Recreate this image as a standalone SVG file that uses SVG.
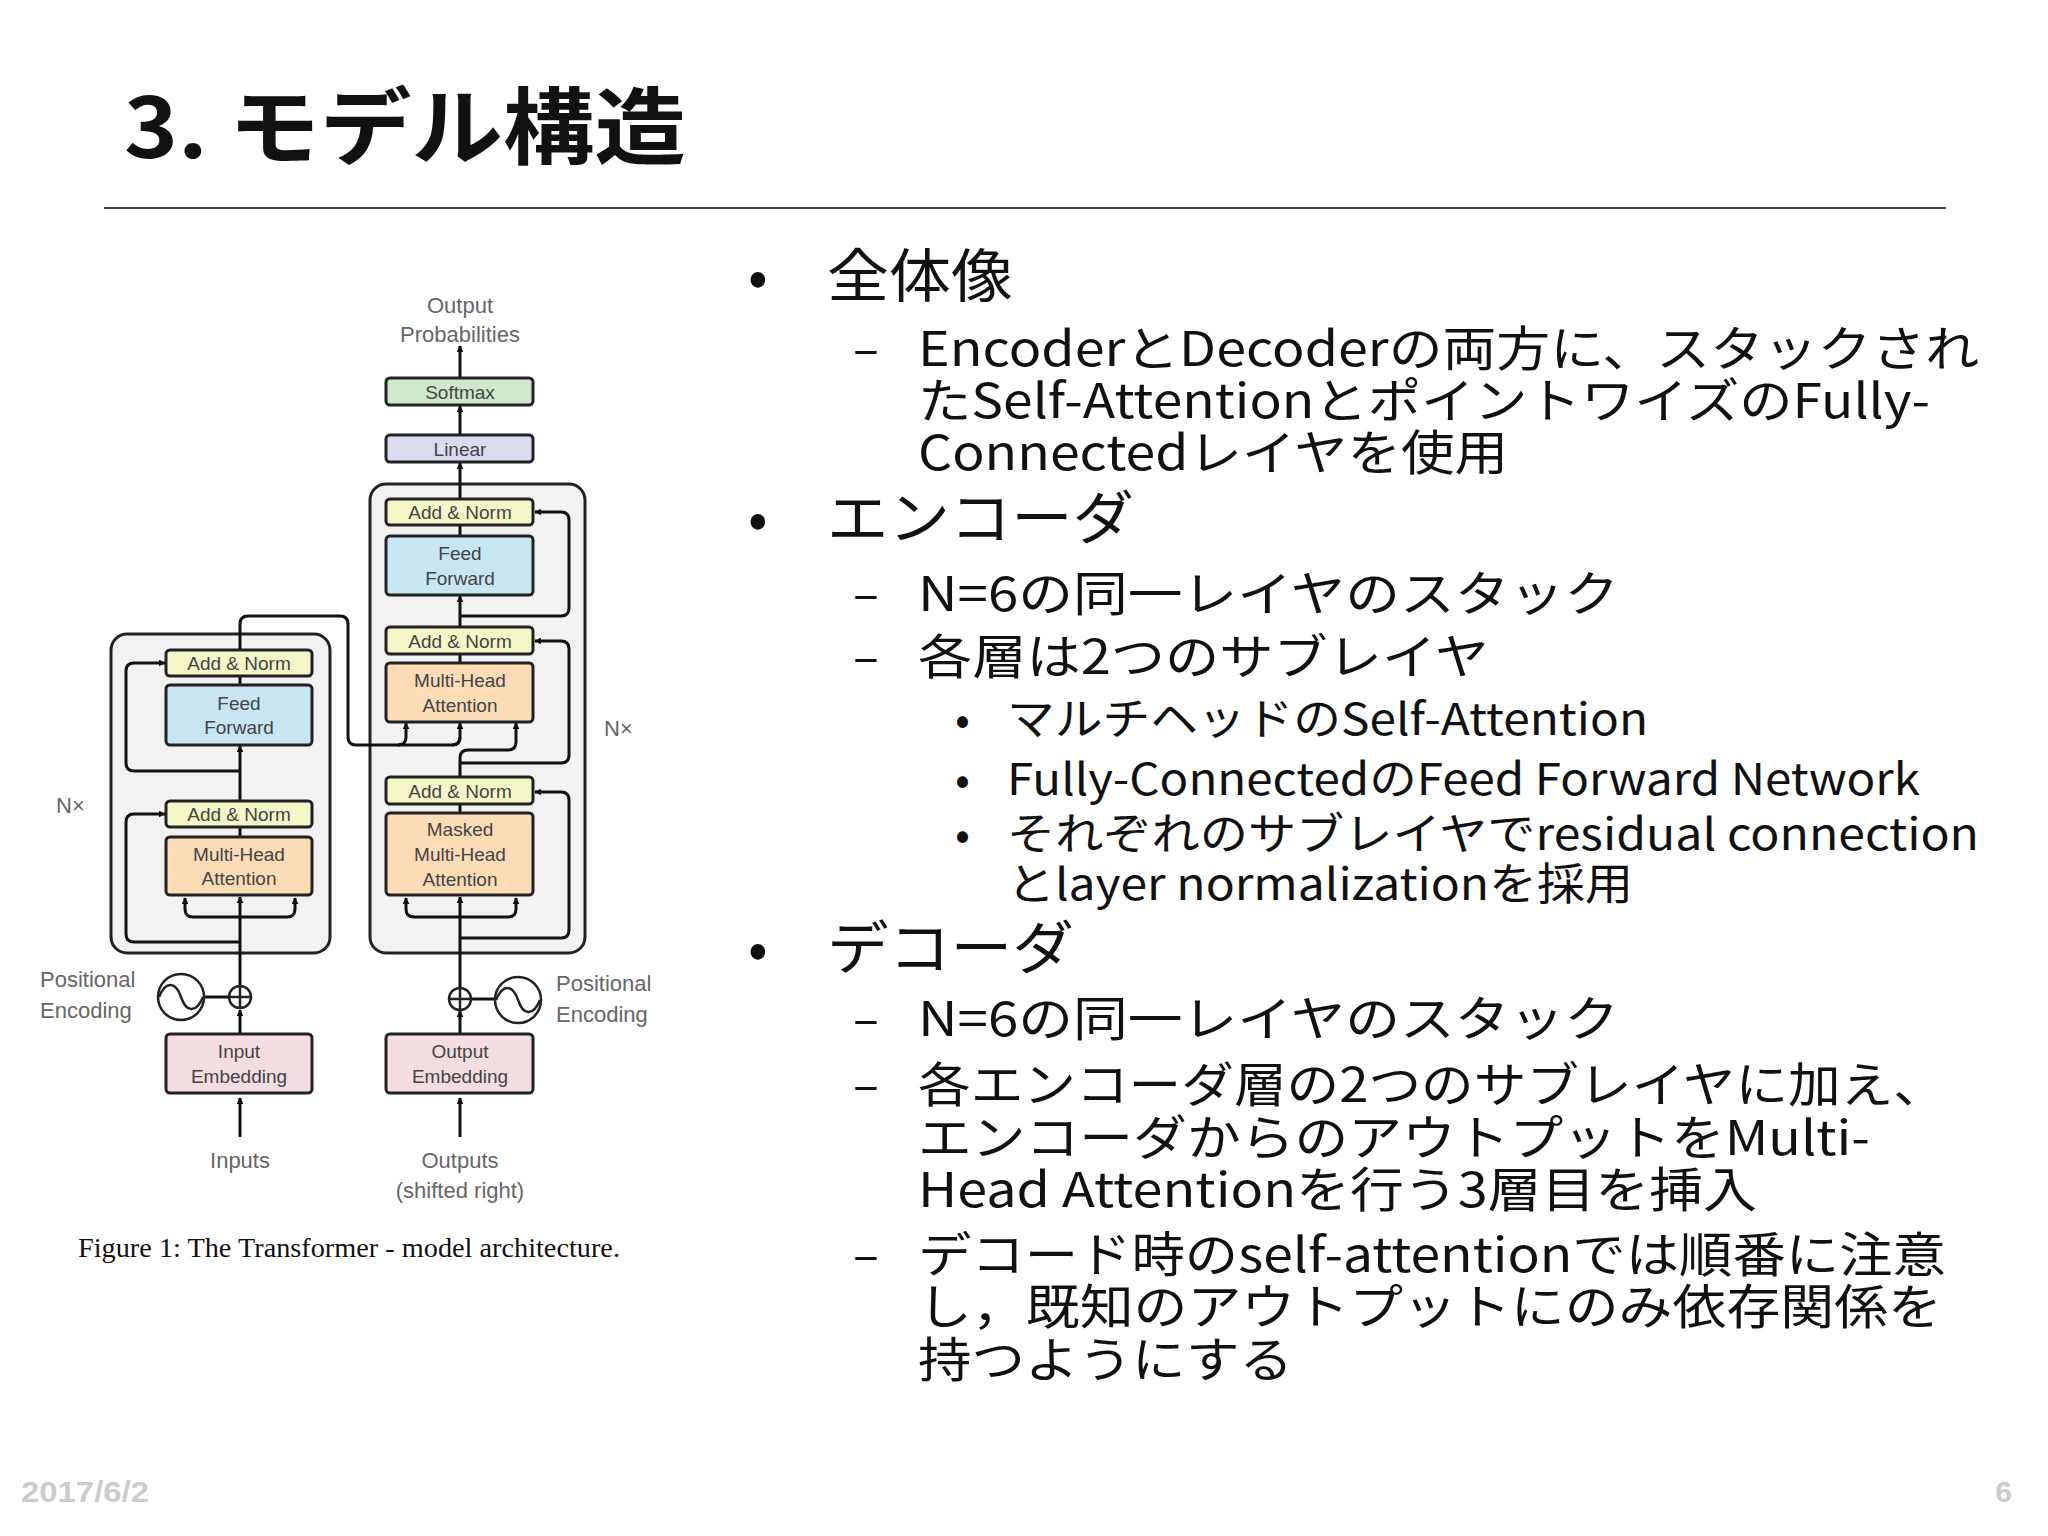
<svg xmlns="http://www.w3.org/2000/svg" width="2048" height="1536" viewBox="0 0 2048 1536">
<defs>
<marker id="ah" viewBox="0 0 10 10" refX="9" refY="5" markerWidth="7" markerHeight="7" markerUnits="userSpaceOnUse" orient="auto"><path d="M0,0 L10,5 L0,10 z" fill="#111"/></marker>
<style>
.b{stroke:#222;stroke-width:3}
.an{fill:#f4f6c8}.ff{fill:#c7e6f2}.mh{fill:#fbdcb6}.em{fill:#f3dde1}.sm{fill:#cfe7cb}.li{fill:#dcdcf0}
.bt{font-family:"Liberation Sans",Arial,sans-serif;font-size:19px;fill:#444;text-anchor:middle}
.lb{font-family:"Liberation Sans",Arial,sans-serif;font-size:22px;fill:#666}
.c{fill:none;stroke:#111;stroke-width:3}
.ar{marker-end:url(#ah)}
.jp{font-family:"Noto Sans CJK JP",sans-serif;fill:#111}
.l1{font-size:58px}.l2{font-size:48px}.l3{font-size:44px}
</style>
</defs>
<rect width="2048" height="1536" fill="#fff"/>
<text x="124" y="158" font-family="Noto Sans CJK JP,sans-serif" font-weight="bold" font-size="84" fill="#111" textLength="562" lengthAdjust="spacingAndGlyphs">3. モデル構造</text>
<line x1="104" y1="208" x2="1946" y2="208" stroke="#444" stroke-width="2"/>

<g id="containers">
<rect x="111" y="634" width="219" height="319" rx="16" fill="#f2f2f2" class="b"/>
<rect x="370" y="484" width="215" height="469" rx="16" fill="#f2f2f2" class="b"/>
</g>

<g id="connectors" class="c">
<path class="ar" d="M240,1137 V1098"/>
<path class="ar" d="M240,1034 V1010"/>
<path class="ar" d="M240,986 V897"/>
<path class="ar" d="M240,917 H193 Q185,917 185,909 V898"/>
<path class="ar" d="M240,917 H287 Q295,917 295,909 V898"/>
<path class="ar" d="M240,942 H134 Q126,942 126,934 V822 Q126,814 134,814 H165"/>
<path d="M240,837 V827"/>
<path class="ar" d="M240,801 V746"/>
<path class="ar" d="M240,771 H134 Q126,771 126,763 V671 Q126,663 134,663 H165"/>
<path d="M240,685 V676"/>
<path d="M240,650 V624 Q240,616 248,616 H340 Q348,616 348,624 V737 Q348,745 356,745 H452 Q460,745 460,737"/>
<path class="ar" d="M398,745 Q406,745 406,737 V723"/>
<path class="ar" d="M452,745 Q460,745 460,737 V723"/>
<path class="ar" d="M460,1137 V1098"/>
<path class="ar" d="M460,1034 V1011"/>
<path class="ar" d="M460,988 V897"/>
<path class="ar" d="M460,917 H414 Q406,917 406,909 V898"/>
<path class="ar" d="M460,917 H508 Q516,917 516,909 V898"/>
<path class="ar" d="M460,938 H561 Q569,938 569,930 V800 Q569,792 561,792 H535"/>
<path d="M460,813 V804"/>
<path class="ar" d="M460,777 V758 Q460,750 468,750 H508 Q516,750 516,742 V723"/>
<path class="ar" d="M460,763 H561 Q569,763 569,755 V649 Q569,641 561,641 H535"/>
<path d="M460,663 V654"/>
<path class="ar" d="M460,627 V596"/>
<path class="ar" d="M460,616 H561 Q569,616 569,608 V520 Q569,512 561,512 H535"/>
<path d="M460,536 V525"/>
<path class="ar" d="M460,499 V463"/>
<path class="ar" d="M460,435 V406"/>
<path class="ar" d="M460,378 V346"/>
<path d="M204,997 H229"/>
<path d="M471,999 H495"/>
</g>

<g id="enc-an2"><rect x="166" y="650" width="146" height="26" rx="4" class="b an"/><text x="239" y="670" class="bt">Add &amp; Norm</text></g>
<g id="enc-ff"><rect x="166" y="685" width="146" height="60" rx="4" class="b ff"/><text x="239" y="710" class="bt">Feed</text><text x="239" y="734" class="bt">Forward</text></g>
<g id="enc-an1"><rect x="166" y="801" width="146" height="26" rx="4" class="b an"/><text x="239" y="821" class="bt">Add &amp; Norm</text></g>
<g id="enc-mha"><rect x="166" y="837" width="146" height="58" rx="4" class="b mh"/><text x="239" y="861" class="bt">Multi-Head</text><text x="239" y="885" class="bt">Attention</text></g>
<g id="enc-emb"><rect x="166" y="1034" width="146" height="59" rx="4" class="b em"/><text x="239" y="1058" class="bt">Input</text><text x="239" y="1083" class="bt">Embedding</text></g>

<g id="dec-soft"><rect x="386" y="378" width="147" height="27" rx="4" class="b sm"/><text x="460" y="399" class="bt">Softmax</text></g>
<g id="dec-lin"><rect x="386" y="435" width="147" height="27" rx="4" class="b li"/><text x="460" y="456" class="bt">Linear</text></g>
<g id="dec-an3"><rect x="386" y="499" width="147" height="26" rx="4" class="b an"/><text x="460" y="519" class="bt">Add &amp; Norm</text></g>
<g id="dec-ff"><rect x="386" y="536" width="147" height="59" rx="4" class="b ff"/><text x="460" y="560" class="bt">Feed</text><text x="460" y="585" class="bt">Forward</text></g>
<g id="dec-an2"><rect x="386" y="627" width="147" height="27" rx="4" class="b an"/><text x="460" y="648" class="bt">Add &amp; Norm</text></g>
<g id="dec-mha"><rect x="386" y="663" width="147" height="59" rx="4" class="b mh"/><text x="460" y="687" class="bt">Multi-Head</text><text x="460" y="712" class="bt">Attention</text></g>
<g id="dec-an1"><rect x="386" y="777" width="147" height="27" rx="4" class="b an"/><text x="460" y="798" class="bt">Add &amp; Norm</text></g>
<g id="dec-mmha"><rect x="386" y="813" width="147" height="82" rx="4" class="b mh"/><text x="460" y="836" class="bt">Masked</text><text x="460" y="861" class="bt">Multi-Head</text><text x="460" y="886" class="bt">Attention</text></g>
<g id="dec-emb"><rect x="386" y="1034" width="147" height="59" rx="4" class="b em"/><text x="460" y="1058" class="bt">Output</text><text x="460" y="1083" class="bt">Embedding</text></g>

<g id="pe-enc" fill="none" stroke="#222" stroke-width="2.5">
<circle cx="240" cy="997" r="11"/><path d="M240,986 V1008 M229,997 H251"/>
<circle cx="181" cy="997" r="23"/><path d="M159,997 C166,980 176,982 181,997 C186,1012 196,1014 203,997"/>
</g>
<g id="pe-dec" fill="none" stroke="#222" stroke-width="2.5">
<circle cx="460" cy="999" r="11"/><path d="M460,988 V1010 M449,999 H471"/>
<circle cx="518" cy="1000" r="23"/><path d="M496,1000 C503,983 513,985 518,1000 C523,1015 533,1017 540,1000"/>
</g>

<g id="labels">
<text x="460" y="313" class="lb" text-anchor="middle">Output</text>
<text x="460" y="342" class="lb" text-anchor="middle">Probabilities</text>
<text x="56" y="813" class="lb">N×</text>
<text x="604" y="736" class="lb">N×</text>
<text x="40" y="987" class="lb">Positional</text>
<text x="40" y="1018" class="lb">Encoding</text>
<text x="556" y="991" class="lb">Positional</text>
<text x="556" y="1022" class="lb">Encoding</text>
<text x="240" y="1168" class="lb" text-anchor="middle">Inputs</text>
<text x="460" y="1168" class="lb" text-anchor="middle">Outputs</text>
<text x="460" y="1198" class="lb" text-anchor="middle">(shifted right)</text>
<text x="78" y="1257" font-family="Liberation Serif,serif" font-size="27" fill="#111" textLength="542" lengthAdjust="spacingAndGlyphs">Figure 1: The Transformer - model architecture.</text>
</g>

<g id="bullets" class="jp">
<text x="748" y="297" class="l1">•</text><text x="827" y="297" class="l1" textLength="186" lengthAdjust="spacingAndGlyphs">全体像</text>
<text x="853" y="366" class="l2">–</text>
<text x="918" y="366" class="l2" textLength="1061" lengthAdjust="spacingAndGlyphs">EncoderとDecoderの両方に、スタックされ</text>
<text x="918" y="418" class="l2" textLength="1012" lengthAdjust="spacingAndGlyphs">たSelf-AttentionとポイントワイズのFully-</text>
<text x="918" y="470" class="l2" textLength="590" lengthAdjust="spacingAndGlyphs">Connectedレイヤを使用</text>
<text x="748" y="539" class="l1">•</text><text x="827" y="539" class="l1" textLength="307" lengthAdjust="spacingAndGlyphs">エンコーダ</text>
<text x="853" y="611" class="l2">–</text><text x="918" y="611" class="l2" textLength="701" lengthAdjust="spacingAndGlyphs">N=6の同一レイヤのスタック</text>
<text x="853" y="674" class="l2">–</text><text x="918" y="674" class="l2" textLength="571" lengthAdjust="spacingAndGlyphs">各層は2つのサブレイヤ</text>
<text x="955" y="735" class="l3">•</text><text x="1007" y="735" class="l3" textLength="641" lengthAdjust="spacingAndGlyphs">マルチヘッドのSelf-Attention</text>
<text x="955" y="795" class="l3">•</text><text x="1007" y="795" class="l3" textLength="913" lengthAdjust="spacingAndGlyphs">Fully-ConnectedのFeed Forward Network</text>
<text x="955" y="850" class="l3">•</text><text x="1007" y="850" class="l3" textLength="972" lengthAdjust="spacingAndGlyphs">それぞれのサブレイヤでresidual connection</text>
<text x="1007" y="900" class="l3" textLength="626" lengthAdjust="spacingAndGlyphs">とlayer normalizationを採用</text>
<text x="748" y="969" class="l1">•</text><text x="827" y="969" class="l1" textLength="247" lengthAdjust="spacingAndGlyphs">デコーダ</text>
<text x="853" y="1036" class="l2">–</text><text x="918" y="1036" class="l2" textLength="701" lengthAdjust="spacingAndGlyphs">N=6の同一レイヤのスタック</text>
<text x="853" y="1102" class="l2">–</text>
<text x="918" y="1102" class="l2" textLength="1028" lengthAdjust="spacingAndGlyphs">各エンコーダ層の2つのサブレイヤに加え、</text>
<text x="918" y="1155" class="l2" textLength="952" lengthAdjust="spacingAndGlyphs">エンコーダからのアウトプットをMulti-</text>
<text x="918" y="1207" class="l2" textLength="839" lengthAdjust="spacingAndGlyphs">Head Attentionを行う3層目を挿入</text>
<text x="853" y="1272" class="l2">–</text>
<text x="918" y="1272" class="l2" textLength="1028" lengthAdjust="spacingAndGlyphs">デコード時のself-attentionでは順番に注意</text>
<text x="918" y="1324" class="l2" textLength="1024" lengthAdjust="spacingAndGlyphs">し，既知のアウトプットにのみ依存関係を</text>
<text x="918" y="1377" class="l2" textLength="375" lengthAdjust="spacingAndGlyphs">持つようにする</text>
</g>
<text x="21" y="1502" font-family="Liberation Sans,sans-serif" font-weight="bold" font-size="30" fill="#ccc" textLength="128" lengthAdjust="spacingAndGlyphs">2017/6/2</text>
<text x="2012" y="1502" font-family="Liberation Sans,sans-serif" font-weight="bold" font-size="30" fill="#ccc" text-anchor="end">6</text>
</svg>
